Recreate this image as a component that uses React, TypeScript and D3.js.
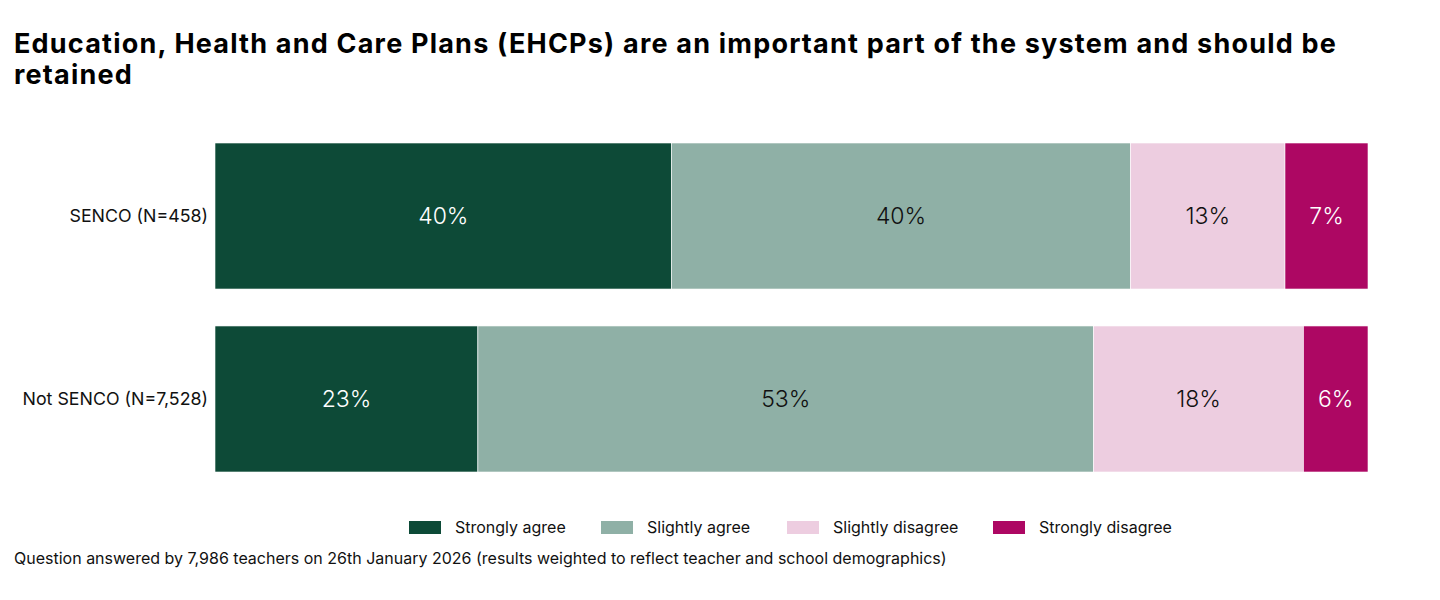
import * as d3 from "d3";
import { useEffect, useRef } from "react";

const W = 1440;
const H = 600;

const groups = ["SENCO (N=458)", "Not SENCO (N=7,528)"];
const responses = ["Strongly agree", "Slightly agree", "Slightly disagree", "Strongly disagree"];
const senco = [39.6, 39.8, 13.4, 7.2];
const notSenco = [22.8, 53.4, 18.2, 5.6];
const labelsSenco = ["40%", "40%", "13%", "7%"];
const labelsNotSenco = ["23%", "53%", "18%", "6%"];

const colors = ["#0d4a37", "#8fb0a6", "#edcde0", "#ad0763"];
const textColors = ["#ffffff", "#111111", "#111111", "#ffffff"];
const legendX = [409, 601, 787, 993];

const FONT = "Inter, 'Noto Sans', sans-serif";

export default function App() {
	const svgRef = useRef<SVGSVGElement>(null);

	useEffect(() => {
		const svg = svgRef.current;
		if (!svg) return;
		document.body.style.margin = "0";

		const sel = d3.select(svg);
		sel.selectAll("*").remove();

		sel.append("rect").attr("width", W).attr("height", H).attr("fill", "#ffffff");

		// Title
		const title = sel
			.append("text")
			.attr("x", 14)
			.attr("font-family", FONT)
			.attr("font-size", 27)
			.attr("font-weight", 700)
			.attr("letter-spacing", 1.2)
			.attr("fill", "#000");
		title
			.append("tspan")
			.attr("x", 14)
			.attr("y", 53)
			.text("Education, Health and Care Plans (EHCPs) are an important part of the system and should be");
		title.append("tspan").attr("x", 14).attr("y", 84).text("retained");

		const x = d3.scaleLinear().domain([0, 100]).range([215, 1368]);
		const y = d3.scaleBand<string>().domain(groups).range([143, 472]).paddingInner(0.202).paddingOuter(0);

		const rows = [
			{ group: groups[0], values: senco, labels: labelsSenco },
			{ group: groups[1], values: notSenco, labels: labelsNotSenco },
		];

		rows.forEach((row) => {
			const g = sel.append("g");
			const ends = d3.cumsum(row.values);
			const y0 = y(row.group) ?? 0;
			const bh = y.bandwidth();

			row.values.forEach((v, i) => {
				const start = i === 0 ? 0 : ends[i - 1];
				g.append("rect")
					.attr("x", x(start))
					.attr("y", y0)
					.attr("width", x(start + v) - x(start))
					.attr("height", bh)
					.attr("fill", colors[i])
					.attr("stroke", "#ffffff")
					.attr("stroke-width", 0.6);
				g.append("text")
					.attr("x", x(start + v / 2))
					.attr("y", y0 + bh / 2)
					.attr("dy", "0.35em")
					.attr("text-anchor", "middle")
					.attr("font-family", FONT)
					.attr("font-size", 23)
					.attr("font-weight", 300)
					.attr("fill", textColors[i])
					.text(row.labels[i]);
			});

			sel.append("text")
				.attr("x", 208)
				.attr("y", y0 + bh / 2)
				.attr("dy", "0.35em")
				.attr("text-anchor", "end")
				.attr("font-family", FONT)
				.attr("font-size", 17.8)
				.attr("fill", "#111")
				.text(row.group);
		});

		// Legend
		const legend = sel.append("g");
		responses.forEach((r, i) => {
			legend
				.append("rect")
				.attr("x", legendX[i])
				.attr("y", 521)
				.attr("width", 32)
				.attr("height", 13)
				.attr("fill", colors[i]);
			legend
				.append("text")
				.attr("x", legendX[i] + 46)
				.attr("y", 527.5)
				.attr("dy", "0.35em")
				.attr("font-family", FONT)
				.attr("font-size", 16)
				.attr("fill", "#111")
				.text(r);
		});

		sel.append("text")
			.attr("x", 14)
			.attr("y", 564)
			.attr("font-family", FONT)
			.attr("font-size", 16)
			.attr("fill", "#111")
			.text(
				"Question answered by 7,986 teachers on 26th January 2026 (results weighted to reflect teacher and school demographics)",
			);
	}, []);

	return (
		<svg
			ref={svgRef}
			width={W}
			height={H}
			viewBox={`0 0 ${W} ${H}`}
			style={{ position: "absolute", top: 0, left: 0, display: "block" }}
		/>
	);
}
